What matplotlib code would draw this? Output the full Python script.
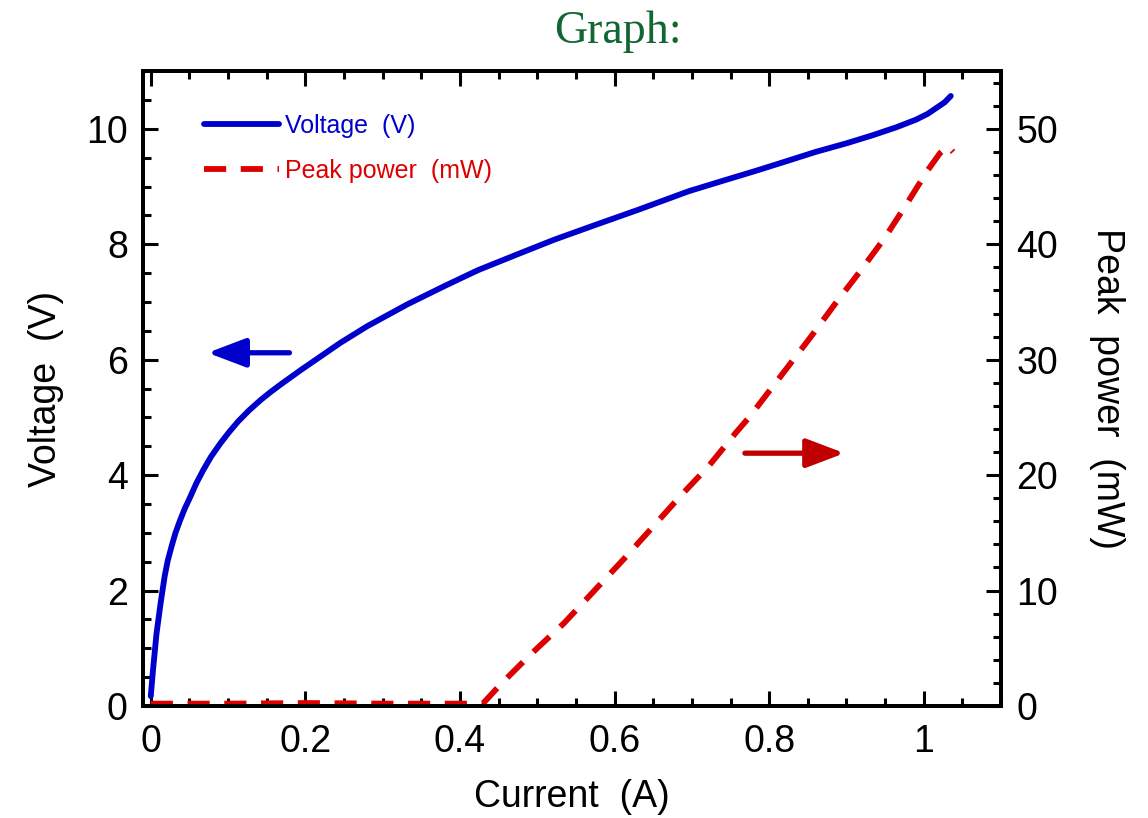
import matplotlib
matplotlib.use("Agg")
import matplotlib.pyplot as plt
from matplotlib.ticker import MultipleLocator, FuncFormatter

plt.rcParams['font.family'] = ['Liberation Sans', 'DejaVu Sans']

# voltage curve (A, V)
cur_v = [0.0, 0.003, 0.0074, 0.0126, 0.018, 0.022, 0.027, 0.032, 0.038, 0.044,
         0.051, 0.059, 0.068, 0.078, 0.09, 0.101,
         0.113, 0.127, 0.142, 0.155, 0.168, 0.194, 0.219, 0.245, 0.28, 0.332,
         0.379, 0.423, 0.475, 0.522, 0.574, 0.631, 0.696, 0.74, 0.782, 0.82,
         0.86, 0.9, 0.934, 0.965, 0.99, 1.005, 1.016, 1.027, 1.035]
volt = [0.17, 0.64, 1.25, 1.77, 2.25, 2.52, 2.77, 3.0, 3.22, 3.42,
        3.62, 3.86, 4.09, 4.32, 4.55, 4.74,
        4.93, 5.12, 5.30, 5.44, 5.57, 5.82, 6.05, 6.29, 6.58, 6.96,
        7.27, 7.55, 7.83, 8.08, 8.33, 8.6, 8.92, 9.1, 9.27, 9.43,
        9.6, 9.75, 9.89, 10.03, 10.16, 10.26, 10.36, 10.46, 10.57]

# peak power curve (A, mW)
cur_p = [0.0, 0.1, 0.2, 0.3, 0.4, 0.428, 0.431, 0.453, 0.492, 0.535, 0.574,
         0.613, 0.648, 0.684, 0.722, 0.756, 0.774, 0.821, 0.853, 0.886,
         0.917, 0.949, 0.977, 1.005, 1.021, 1.031, 1.038]
power = [0.2, 0.2, 0.25, 0.2, 0.2, 0.2, 0.3, 1.9, 4.5, 7.2, 10.0,
         12.8, 15.4, 18.1, 20.8, 23.6, 25.0, 29.1, 31.9, 34.9,
         37.6, 40.5, 43.4, 46.4, 47.9, 48.5, 48.0]

blue = '#0000cc'
red = '#dd0000'

fig = plt.figure(figsize=(11.48, 8.18), dpi=100)
ax = fig.add_axes([0.1246, 0.137, 0.7474, 0.776])
ax2 = ax.twinx()

l1, = ax.plot(cur_v, volt, color=blue, lw=4.2, solid_capstyle='round')
l2, = ax2.plot(cur_p, power, color=red, lw=4.2, ls=(0, (3.8, 2.5)))

ax.set_xlim(-0.01, 1.1)
ax.set_ylim(0, 11)
ax2.set_ylim(0, 55)

ax.xaxis.set_major_locator(MultipleLocator(0.2))
ax.xaxis.set_minor_locator(MultipleLocator(0.05))
ax.yaxis.set_major_locator(MultipleLocator(2))
ax.yaxis.set_minor_locator(MultipleLocator(0.5))
ax2.yaxis.set_major_locator(MultipleLocator(10))
ax2.yaxis.set_minor_locator(MultipleLocator(2))
fmt = FuncFormatter(lambda v, p: '%g' % round(v, 3))
ax.xaxis.set_major_formatter(fmt)

for a in (ax, ax2):
    for s in a.spines.values():
        s.set_linewidth(2.8)
    a.tick_params(which='major', direction='in', length=11, width=2.2, labelsize=27, pad=11)
    a.tick_params(which='minor', direction='in', length=6, width=2.2)
ax.tick_params(which='both', top=True, right=False)
ax.tick_params(axis='x', pad=13)

ax.set_xlabel('Current  (A)', fontsize=27, labelpad=14)
ax.set_ylabel('Voltage  (V)', fontsize=27, labelpad=16)
ax2.set_ylabel('Peak  power  (mW)', fontsize=27, rotation=270, labelpad=48)

leg = ax.legend([l1, l2], ['Voltage  (V)', 'Peak power  (mW)'], loc='upper left',
                bbox_to_anchor=(0.045, 0.968), frameon=False, fontsize=18,
                handlelength=3.0, handletextpad=0.25, labelspacing=0.85)
for t, c in zip(leg.get_texts(), [blue, red]):
    t.set_color(c)

ax.annotate('', xy=(0.070, 6.12), xytext=(0.183, 6.12),
            arrowprops=dict(arrowstyle='-|>,head_length=1.45,head_width=0.55',
                            color=blue, lw=3.8, mutation_scale=16))
ax.annotate('', xy=(0.901, 4.38), xytext=(0.765, 4.38),
            arrowprops=dict(arrowstyle='-|>,head_length=1.45,head_width=0.55',
                            color='#c00000', lw=3.8, mutation_scale=16))

fig.text(0.538, 0.961, 'Graph:', fontsize=33, color='#116633',
         family='Liberation Serif', ha='center', va='center')

fig.savefig('out.png', dpi=100)
